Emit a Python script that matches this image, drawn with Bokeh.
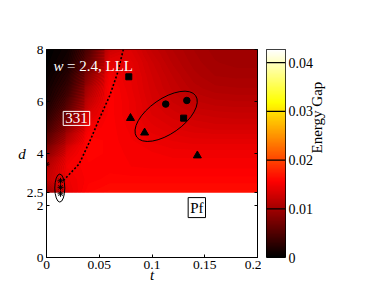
import math
import numpy as np
from bokeh.plotting import figure
from bokeh.models import (LinearColorMapper, FixedTicker, LinearAxis, Label,
                          Range1d, CustomJSTickFormatter)
from bokeh.layouts import row
from bokeh.embed import file_html
from bokeh.resources import INLINE

# ---------------- data ----------------
t_grid = [0, 0.02, 0.04, 0.06, 0.08, 0.10, 0.12, 0.14, 0.16, 0.18, 0.20]
d_grid = [2.5, 3, 3.5, 4, 4.5, 5, 5.5, 6, 6.5, 7, 7.5, 8]
# energy gap (units of 1e-3), one row per d (ascending), one value per t
gap_milli = [
    [9.0, 14.0, 16.0, 16.5, 16.5, 16.5, 16.5, 16.5, 16.5, 16.5, 16.5],
    [12.0, 14.5, 15.5, 15.8, 15.8, 15.8, 15.8, 15.8, 15.8, 15.8, 15.8],
    [11.0, 15.0, 15.5, 15.5, 15.3, 15.2, 15.2, 15.2, 15.2, 15.2, 15.2],
    [8.5, 14.0, 16.0, 15.5, 15.2, 15.0, 14.8, 14.8, 14.8, 14.8, 14.8],
    [6.0, 11.5, 16.0, 15.5, 15.0, 14.5, 14.2, 14.0, 14.0, 14.0, 14.0],
    [4.0, 9.0, 15.0, 15.5, 14.8, 14.0, 13.5, 13.2, 13.0, 13.0, 13.0],
    [2.5, 7.0, 13.5, 15.5, 14.5, 13.5, 13.0, 12.5, 12.3, 12.2, 12.2],
    [1.5, 5.0, 12.0, 15.5, 14.5, 13.2, 12.4, 11.8, 11.5, 11.4, 11.4],
    [1.0, 3.5, 10.5, 15.5, 14.3, 13.0, 12.0, 11.2, 10.8, 10.7, 10.7],
    [0.5, 2.5, 8.5, 15.0, 14.2, 12.8, 11.7, 10.8, 10.3, 10.2, 10.2],
    [0.2, 1.5, 6.5, 14.0, 14.0, 12.5, 11.3, 10.5, 10.0, 9.8, 9.8],
    [0.0, 1.0, 5.0, 12.5, 13.5, 12.0, 11.0, 10.3, 9.8, 9.8, 9.8],
]

boundary_t = [0.016, 0.031, 0.042, 0.050, 0.060, 0.0676, 0.073]
boundary_d = [2.96, 3.6, 4.56, 5.33, 6.23, 7.13, 8.03]

tri_t = [0.0796, 0.093, 0.143]
tri_d = [5.36, 4.8, 3.92]
sq_t = [0.078, 0.130]
sq_d = [6.95, 5.36]
circ_t = [0.113, 0.133]
circ_d = [5.9, 6.04]
ast_t = [0.0133, 0.0133, 0.0133, 0.0]
ast_d = [2.95, 2.7, 2.45, 3.59]

x_ticks = [0, 0.05, 0.1, 0.15, 0.2]
y_ticks = [0, 2, 2.5, 4, 6, 8]
cb_ticks = [0, 0.01, 0.02, 0.03, 0.04]
cb_high = 0.0427

# ---------------- style ----------------
FONT = "Liberation Serif"

def hot_color(f):
    f = min(1.0, max(0.0, f))
    r = min(1.0, f / 0.365)
    g = min(1.0, max(0.0, (f - 0.365) / 0.381))
    b = min(1.0, max(0.0, (f - 0.746) / 0.254))
    return "#%02x%02x%02x" % (int(r * 255), int(g * 255), int(b * 255))

palette = [hot_color(i / 255) for i in range(256)]
mapper = LinearColorMapper(palette=palette, low=0, high=cb_high)
fmt = CustomJSTickFormatter(code="return tick.toString()")
blank = CustomJSTickFormatter(code="return ''")

p = figure(frame_width=211, frame_height=208,
           x_range=Range1d(0, 0.2), y_range=Range1d(0, 8),
           output_backend="svg", toolbar_location=None,
           min_border_left=46, min_border_top=48, min_border_bottom=26,
           min_border_right=4)
p.xgrid.visible = False
p.ygrid.visible = False
p.outline_line_color = "black"
p.outline_line_alpha = 1

gap = np.array(gap_milli) * 1e-3
# coarse cells underneath (hide anti-aliasing seams), smooth filled contours on top
p.image(image=[gap], x=t_grid[0], y=d_grid[0], dw=t_grid[-1] - t_grid[0],
        dh=d_grid[-1] - d_grid[0], color_mapper=mapper)
levels = list(np.linspace(0, cb_high, 121))
fill_cols = [hot_color((levels[i] + levels[i + 1]) / 2 / cb_high) for i in range(len(levels) - 1)]
p.contour(x=t_grid, y=d_grid, z=gap, levels=levels,
          fill_color=fill_cols, line_color=None)

p.line(boundary_t, boundary_d, line_color="black", line_width=1.6, line_dash="2 2")

p.ellipse(x=0.1134, y=5.43, width=72, height=35, angle=35, angle_units="deg",
          width_units="screen", height_units="screen",
          fill_color=None, line_color="black", line_width=1)
p.ellipse(x=0.0126, y=2.67, width=10, height=28,
          width_units="screen", height_units="screen",
          fill_color=None, line_color="black", line_width=1)

p.scatter(tri_t, tri_d, marker="triangle", size=8, color="black")
p.scatter(sq_t, sq_d, marker="square", size=6, color="black")
p.scatter(circ_t, circ_d, marker="circle", size=6.5, color="black")
p.scatter(ast_t, ast_d, marker="asterisk", size=6, line_color="black", line_width=1)

for ax in (p.xaxis[0], p.yaxis[0]):
    ax.major_tick_in = 3
    ax.major_tick_out = 0
    ax.minor_tick_line_color = None
    ax.axis_line_color = "black"
    ax.major_label_text_font = FONT
    ax.major_label_text_font_size = "13.5px"
    ax.major_label_text_color = "black"
    ax.major_label_standoff = 3
    ax.formatter = fmt
    ax.axis_label_text_font = FONT
    ax.axis_label_text_font_style = "italic"
    ax.axis_label_text_font_size = "15px"
    ax.axis_label_text_color = "black"
p.xaxis.ticker = FixedTicker(ticks=x_ticks)
p.yaxis.ticker = FixedTicker(ticks=y_ticks)
p.xaxis.axis_label = "t"
p.xaxis.axis_label_standoff = -5
p.yaxis.axis_label = "d"
p.yaxis.axis_label_orientation = "horizontal"
p.yaxis.axis_label_standoff = -2

rax = LinearAxis(ticker=FixedTicker(ticks=y_ticks), major_tick_in=3, major_tick_out=0,
                 minor_tick_line_color=None, formatter=blank,
                 major_label_standoff=0, axis_line_color="black")
p.add_layout(rax, "right")

p.add_layout(Label(x=0.0066, y=7.38, text="w", text_font=FONT, text_font_style="italic",
                   text_font_size="15px", text_color="white", text_baseline="alphabetic"))
p.add_layout(Label(x=0.0195, y=7.38, text="= 2.4, LLL", text_font=FONT,
                   text_font_size="15px", text_color="white", text_baseline="alphabetic"))
p.add_layout(Label(x=0.0284, y=5.35, text="331", text_font=FONT, text_font_size="15px",
                   text_color="white", text_align="center", text_baseline="middle",
                   border_line_color="white", border_line_width=1, padding=2))
p.add_layout(Label(x=0.1425, y=1.92, text="Pf", text_font=FONT, text_font_size="15px",
                   text_color="black", text_align="center", text_baseline="middle",
                   border_line_color="black", border_line_width=1, padding=2,
                   background_fill_color="white"))

# ---------------- colour bar ----------------
cb = figure(frame_width=19, frame_height=208,
            x_range=Range1d(0, 1), y_range=Range1d(0, cb_high),
            output_backend="svg", toolbar_location=None, y_axis_location="right",
            min_border_left=5, min_border_top=49, min_border_bottom=25,
            min_border_right=40)
cb.xgrid.visible = False
cb.ygrid.visible = False
cb.xaxis.visible = False
cb.outline_line_color = "black"
grad = np.linspace(0, cb_high, 256).reshape(256, 1)
cb.image(image=[grad], x=0, y=0, dw=1, dh=cb_high, color_mapper=mapper)
cb.segment(x0=0, x1=1, y0=cb_ticks[1:], y1=cb_ticks[1:], line_color="black", line_width=1.2)
ya = cb.yaxis[0]
ya.ticker = FixedTicker(ticks=cb_ticks)
ya.formatter = fmt
ya.major_tick_in = 0
ya.major_tick_out = 0
ya.minor_tick_line_color = None
ya.axis_line_color = None
ya.major_label_text_font = FONT
ya.major_label_text_font_size = "14px"
ya.major_label_text_color = "black"
ya.major_label_standoff = 3
ya.axis_label = "Energy Gap"
ya.axis_label_text_font = FONT
ya.axis_label_text_font_style = "normal"
ya.axis_label_text_font_size = "15px"
ya.axis_label_text_color = "black"
ya.axis_label_orientation = math.pi / 2
ya.axis_label_standoff = 1

layout = row(p, cb)
open("out.html", "w").write(file_html(layout, INLINE))
